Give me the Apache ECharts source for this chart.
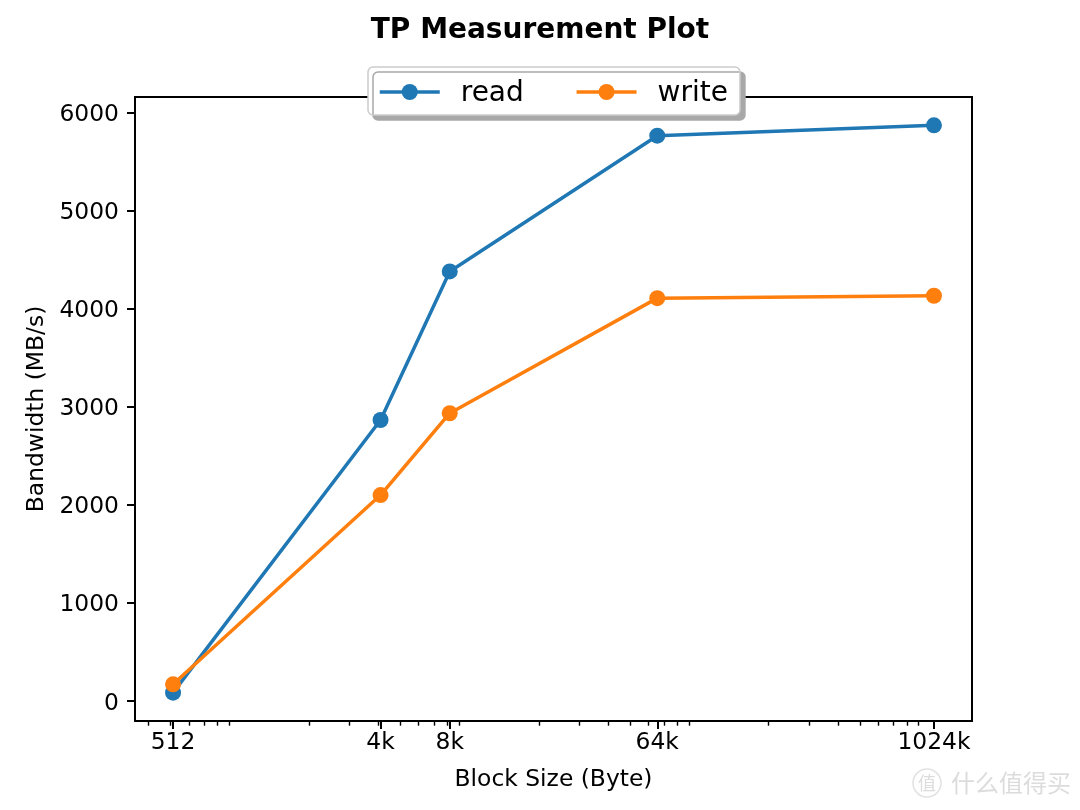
<!DOCTYPE html>
<html><head><meta charset="utf-8">
<script src="https://cdn.jsdelivr.net/npm/echarts@6/dist/echarts.min.js"></script>
<style>html,body{margin:0;padding:0;background:#fff}#c{width:1080px;height:810px}</style>
</head><body><div id="c"></div>
<script>
const titleText = 'TP Measurement Plot';
const xAxisName = 'Block Size (Byte)';
const yAxisName = 'Bandwidth (MB/s)';
const blockSizes = [512, 4096, 8192, 65536, 1048576];
const tickLabels = ['512', '4k', '8k', '64k', '1024k'];
const readMBs = [85, 2864, 4378, 5762, 5867];
const writeMBs = [170, 2099, 2933, 4106, 4130];
const yTicks = [0, 1000, 2000, 3000, 4000, 5000, 6000];
const minorTicks = [400, 500, 600, 700, 800, 900, 2000, 3000, 4000, 5000, 6000, 7000, 8000, 9000,
  20000, 30000, 40000, 50000, 60000, 70000, 80000, 90000,
  200000, 300000, 400000, 500000, 600000, 700000, 800000, 900000];

const FONT = 'DejaVu Sans';
const lx = blockSizes.map(v => Math.log2(v));
const lxMin = Math.min(...lx), lxMax = Math.max(...lx);
const xMin = Math.pow(2, lxMin - 0.05 * (lxMax - lxMin));
const xMax = Math.pow(2, lxMax + 0.05 * (lxMax - lxMin));
const allY = readMBs.concat(writeMBs);
const yLo = Math.min(...allY), yHi = Math.max(...allY);
const yMin = yLo - 0.05 * (yHi - yLo);
const yMax = yHi + 0.05 * (yHi - yLo);

function xLabel(v) {
  const l = Math.log2(v);
  for (let i = 0; i < blockSizes.length; i++) {
    if (Math.abs(Math.log2(blockSizes[i]) - l) < 0.01) return tickLabels[i];
  }
  return '';
}

const chart = echarts.init(document.getElementById('c'), null, {renderer: 'canvas'});
chart.setOption({
  animation: false,
  backgroundColor: '#fff',
  textStyle: {fontFamily: FONT},
  title: {
    text: titleText, left: 'center', top: 17, padding: 0,
    textStyle: {fontFamily: FONT, fontSize: 28, fontWeight: 'bold', color: '#000'}
  },
  legend: {
    data: ['read', 'write'],
    left: 368, top: 67,
    itemWidth: 60, itemHeight: 20, itemGap: 51,
    padding: [13, 12, 7, 10],
    backgroundColor: '#fff',
    borderColor: '#cccccc', borderWidth: 1.5, borderRadius: 5,
    shadowColor: '#a8a8a8', shadowBlur: 0, shadowOffsetX: 5, shadowOffsetY: 5,
    lineStyle: {width: 3.5},
    formatter: name => '{a|' + name + '}',
    textStyle: {fontFamily: FONT, fontSize: 28, color: '#000', padding: [0, 0, 0, 16],
      rich: {a: {fontFamily: FONT, fontSize: 28, color: '#000', padding: [4, 0, 0, 0]}}},
    z: 10
  },
  grid: {
    left: 135, right: 108, top: 97, bottom: 89,
    show: true, borderColor: '#000', borderWidth: 2, backgroundColor: 'transparent',
    containLabel: false
  },
  xAxis: [{
    type: 'log', logBase: 2, min: xMin, max: xMax,
    position: 'bottom',
    name: xAxisName, nameLocation: 'middle', nameGap: 47,
    nameTextStyle: {fontFamily: FONT, fontSize: 23.4, color: '#000'},
    axisLine: {show: false, onZero: false},
    splitLine: {show: false},
    axisTick: {show: true, inside: false, length: 8, lineStyle: {color: '#000', width: 2}, customValues: blockSizes},
    axisLabel: {show: true, margin: 10, fontFamily: FONT, fontSize: 23.4, color: '#000', customValues: blockSizes, formatter: xLabel}
  }, {
    type: 'log', logBase: 2, min: xMin, max: xMax,
    position: 'bottom', gridIndex: 0, offset: 0,
    axisLine: {show: false, onZero: false},
    splitLine: {show: false},
    axisTick: {show: true, inside: false, length: 4.7, lineStyle: {color: '#000', width: 1.4}, customValues: minorTicks},
    axisLabel: {show: false}
  }],
  yAxis: {
    type: 'value', min: yMin, max: yMax,
    name: yAxisName, nameLocation: 'middle', nameGap: 77,
    nameTextStyle: {fontFamily: FONT, fontSize: 23.4, color: '#000'},
    axisLine: {show: false, onZero: false},
    splitLine: {show: false},
    axisTick: {show: true, inside: false, length: 8, lineStyle: {color: '#000', width: 2}, customValues: yTicks},
    axisLabel: {show: true, margin: 16, fontFamily: FONT, fontSize: 23.4, color: '#000', customValues: yTicks,
      formatter: v => '{a|' + Math.round(v) + '}',
      rich: {a: {fontFamily: FONT, fontSize: 23.4, color: '#000', padding: [5, 0, 0, 0]}}}
  },
  series: [{
    name: 'read', type: 'line', xAxisIndex: 0,
    data: blockSizes.map((b, i) => [b, readMBs[i]]),
    symbol: 'circle', symbolSize: 16, showSymbol: true,
    color: '#1f77b4',
    itemStyle: {color: '#1f77b4'},
    lineStyle: {color: '#1f77b4', width: 3.5}
  }, {
    name: 'write', type: 'line', xAxisIndex: 0,
    data: blockSizes.map((b, i) => [b, writeMBs[i]]),
    symbol: 'circle', symbolSize: 16, showSymbol: true,
    color: '#ff7f0e',
    itemStyle: {color: '#ff7f0e'},
    lineStyle: {color: '#ff7f0e', width: 3.5}
  }],
  graphic: [{
    type: 'circle', shape: {cx: 927, cy: 783, r: 14},
    style: {fill: 'none', stroke: '#e2e2e2', lineWidth: 1.5}, silent: true
  }, {
    type: 'text', x: 927, y: 783,
    style: {text: '值', font: '18px "Noto Sans CJK SC"', fill: '#dcdcdc', align: 'center', verticalAlign: 'middle'}, silent: true
  }, {
    type: 'text', x: 951, y: 783,
    style: {text: '什么值得买', font: '24px "Noto Sans CJK SC"', fill: '#dcdcdc', align: 'left', verticalAlign: 'middle'}, silent: true
  }]
});
</script></body></html>
